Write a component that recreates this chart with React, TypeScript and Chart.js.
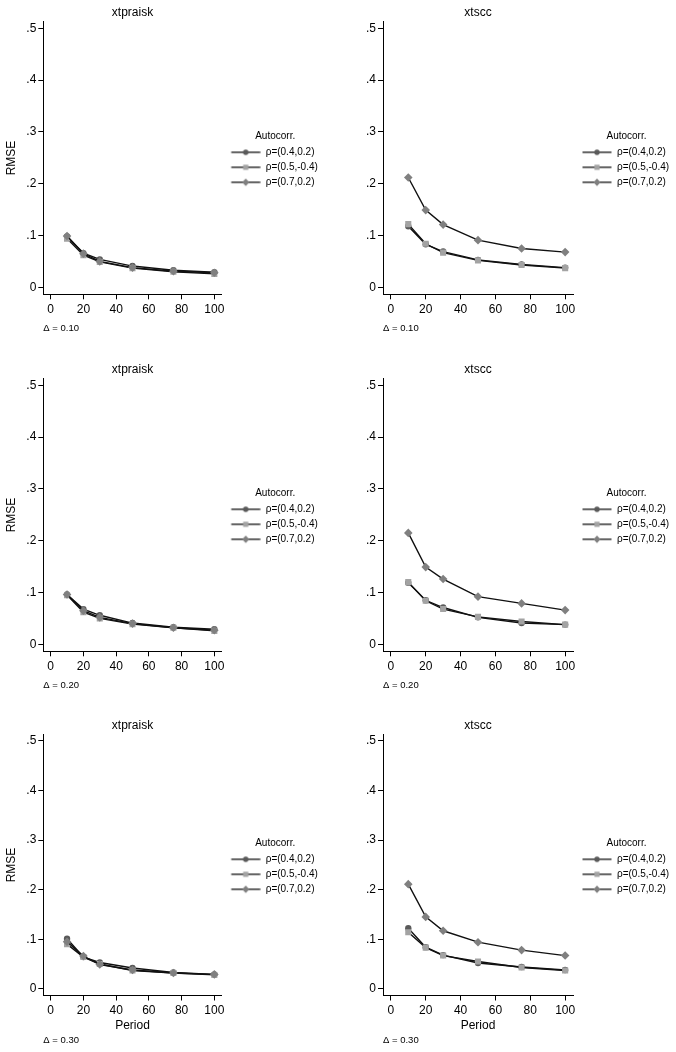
import React, { useEffect, useRef } from 'react';
import { Chart, registerables } from 'chart.js';

Chart.register(...registerables);

const FONT = '"Liberation Sans", Arial, sans-serif';

const PERIODS = [10, 20, 30, 50, 75, 100];
const X_TICKS = [0, 20, 40, 60, 80, 100];
const Y_TICKS = [0, 0.1, 0.2, 0.3, 0.4, 0.5];
const Y_TICK_LABELS = ['0', '.1', '.2', '.3', '.4', '.5'];
const SERIES_LABELS = ['ρ=(0.4,0.2)', 'ρ=(0.5,-0.4)', 'ρ=(0.7,0.2)'];
const ESTIMATORS = ['xtpraisk', 'xtscc'];
const DELTAS = ['Δ = 0.10', 'Δ = 0.20', 'Δ = 0.30'];

// xtpraisk, Δ = 0.10
const XTPRAISK_D10_A = [0.098, 0.066, 0.054, 0.041, 0.033, 0.029];
const XTPRAISK_D10_B = [0.094, 0.062, 0.049, 0.037, 0.030, 0.026];
const XTPRAISK_D10_C = [0.099, 0.065, 0.050, 0.038, 0.031, 0.028];
// xtscc, Δ = 0.10
const XTSCC_D10_A = [0.118, 0.083, 0.069, 0.053, 0.044, 0.038];
const XTSCC_D10_B = [0.122, 0.084, 0.067, 0.052, 0.043, 0.037];
const XTSCC_D10_C = [0.212, 0.149, 0.121, 0.091, 0.075, 0.068];
// xtpraisk, Δ = 0.20
const XTPRAISK_D20_A = [0.096, 0.068, 0.056, 0.041, 0.033, 0.029];
const XTPRAISK_D20_B = [0.095, 0.062, 0.050, 0.039, 0.032, 0.026];
const XTPRAISK_D20_C = [0.096, 0.065, 0.052, 0.040, 0.032, 0.027];
// xtscc, Δ = 0.20
const XTSCC_D20_A = [0.119, 0.085, 0.071, 0.052, 0.041, 0.038];
const XTSCC_D20_B = [0.120, 0.084, 0.068, 0.053, 0.044, 0.038];
const XTSCC_D20_C = [0.215, 0.149, 0.126, 0.092, 0.079, 0.066];
// xtpraisk, Δ = 0.30
const XTPRAISK_D30_A = [0.101, 0.064, 0.053, 0.042, 0.033, 0.029];
const XTPRAISK_D30_B = [0.090, 0.064, 0.050, 0.037, 0.032, 0.028];
const XTPRAISK_D30_C = [0.095, 0.066, 0.049, 0.038, 0.032, 0.029];
// xtscc, Δ = 0.30
const XTSCC_D30_A = [0.122, 0.084, 0.068, 0.052, 0.044, 0.038];
const XTSCC_D30_B = [0.114, 0.083, 0.067, 0.055, 0.043, 0.037];
const XTSCC_D30_C = [0.211, 0.145, 0.117, 0.094, 0.078, 0.067];

const PANEL_DATA = [
  [[XTPRAISK_D10_A, XTPRAISK_D10_B, XTPRAISK_D10_C], [XTSCC_D10_A, XTSCC_D10_B, XTSCC_D10_C]],
  [[XTPRAISK_D20_A, XTPRAISK_D20_B, XTPRAISK_D20_C], [XTSCC_D20_A, XTSCC_D20_B, XTSCC_D20_C]],
  [[XTPRAISK_D30_A, XTPRAISK_D30_B, XTPRAISK_D30_C], [XTSCC_D30_A, XTSCC_D30_B, XTSCC_D30_C]],
];

const MARKER_COLORS = ['#5a5a5a', '#a3a3a3', '#808080'];
const MARKER_STYLES = ['circle', 'rect', 'rectRot'];
const MARKER_RADII = [3.2, 4.3, 4.3];
const LINE_COLOR = '#111111';

const ROW_TOPS = [0, 357, 714];
const ROW_HEIGHTS = [357, 357, 338];
const COL_LEFTS = [0, 338];
const COL_WIDTHS = [338, 348];

const LEGEND_FONT_SIZE = 10;
const LEGEND_PAD = 5;
const SAMPLE_W = 34;

function makeLegendSample(style: string, color: string, radius: number) {
  const c = document.createElement('canvas');
  c.width = SAMPLE_W;
  c.height = 10;
  const ctx = c.getContext('2d')!;
  ctx.strokeStyle = LINE_COLOR;
  ctx.lineWidth = 1.3;
  ctx.beginPath();
  ctx.moveTo(4.5, 5);
  ctx.lineTo(33.5, 5);
  ctx.stroke();
  ctx.fillStyle = color;
  const cx = 19, cy = 5;
  ctx.beginPath();
  if (style === 'circle') {
    ctx.arc(cx, cy, radius, 0, Math.PI * 2);
  } else if (style === 'rect') {
    const s = radius * Math.SQRT1_2;
    ctx.rect(cx - s, cy - s, 2 * s, 2 * s);
  } else {
    ctx.moveTo(cx, cy - radius);
    ctx.lineTo(cx + radius, cy);
    ctx.lineTo(cx, cy + radius);
    ctx.lineTo(cx - radius, cy);
    ctx.closePath();
  }
  ctx.fill();
  return c;
}

function Panel({ row, col }: { row: number; col: number }) {
  const ref = useRef<HTMLCanvasElement>(null);
  const H = ROW_HEIGHTS[row];
  const W = COL_WIDTHS[col];

  useEffect(() => {
    const canvas = ref.current!;
    const isLast = row === 2;
    const chartTop = isLast ? 20.5 : 21.7;
    const chartBottom = isLast ? 281.5 : 294.3;
    const xH = isLast ? 37.7 : 24;
    const subPadTop = isLast ? 1.1 : 4;
    const subFont = 9.5;
    const subH = subFont * 1.2 + subPadTop;
    const padBottom = H - chartBottom - xH - subH;
    const titlePadTop = isLast ? 4.8 : 5;
    const titlePadBottom = chartTop - 14.4 - titlePadTop;

    // natural legend width (Chart.js: padding + box + fontSize/2 + text + 10)
    const mctx = document.createElement('canvas').getContext('2d')!;
    mctx.font = `${LEGEND_FONT_SIZE}px ${FONT}`;
    const maxText = Math.max(...SERIES_LABELS.map((t) => mctx.measureText(t).width));
    const legendWidth = Math.ceil(LEGEND_PAD + SAMPLE_W + LEGEND_FONT_SIZE / 2 + maxText + 10);
    const chartRight = col === 0 ? 221.7 : 235;
    const padRight = W - chartRight - legendWidth;

    const samples = MARKER_STYLES.map((s, i) => makeLegendSample(s, MARKER_COLORS[i], MARKER_RADII[i] * 0.85));
    const series = PANEL_DATA[row][col];

    const tickFont = { family: FONT, size: 12 };

    const fixLegendWidth = {
      id: 'fixLegendWidth',
      beforeLayout(ch: any) {
        const lg = ch.legend;
        if (lg && !lg.__patched) {
          const orig = lg.fit.bind(lg);
          lg.fit = function () {
            orig();
            this.width = legendWidth;
          };
          lg.__patched = true;
        }
      },
    };

    const chart = new Chart(canvas, {
      type: 'line',
      data: {
        datasets: series.map((vals, i) => ({
          label: SERIES_LABELS[i],
          data: PERIODS.map((p, j) => ({ x: p, y: vals[j] })),
          borderColor: LINE_COLOR,
          borderWidth: 1.4,
          pointStyle: MARKER_STYLES[i] as any,
          pointRadius: MARKER_RADII[i],
          pointBackgroundColor: MARKER_COLORS[i],
          pointBorderColor: MARKER_COLORS[i],
          pointBorderWidth: 0,
          tension: 0,
          fill: false,
          order: 2 - i,
        })),
      },
      plugins: [fixLegendWidth],
      options: {
        animation: false,
        responsive: false,
        devicePixelRatio: 1,
        color: '#000',
        layout: { padding: { left: 0, top: 0, right: padRight, bottom: padBottom } },
        scales: {
          x: {
            type: 'linear',
            min: -4.5,
            max: 104.5,
            afterBuildTicks: (s: any) => { s.ticks = X_TICKS.map((v) => ({ value: v })); },
            afterFit: (s: any) => { s.height = xH; },
            ticks: { font: tickFont, color: '#000', padding: 3, maxRotation: 0, autoSkip: false, callback: (v: any) => String(v) },
            grid: { drawOnChartArea: false, drawTicks: true, tickLength: 5, color: '#000', lineWidth: 1 },
            border: { display: true, color: '#000', width: 1 },
            title: { display: isLast, text: 'Period', font: tickFont, color: '#000', padding: { top: 0, bottom: 0 } },
          },
          y: {
            type: 'linear',
            min: -0.0135,
            max: 0.5127,
            afterBuildTicks: (s: any) => { s.ticks = Y_TICKS.map((v) => ({ value: v })); },
            afterFit: (s: any) => { s.width = col === 0 ? 43.3 : 45; },
            ticks: { font: tickFont, color: '#000', padding: 2, autoSkip: false, callback: (_v: any, i: number) => Y_TICK_LABELS[i] },
            grid: { drawOnChartArea: false, drawTicks: true, tickLength: 5, color: '#000', lineWidth: 1 },
            border: { display: true, color: '#000', width: 1 },
            title: { display: col === 0, text: 'RMSE', font: tickFont, color: '#000', padding: { top: 4.8, bottom: 0 } },
          },
        },
        plugins: {
          tooltip: { enabled: false },
          title: {
            display: true,
            text: ESTIMATORS[col],
            fullSize: false,
            font: { family: FONT, size: 12, weight: 'normal' },
            color: '#000',
            padding: { top: titlePadTop, bottom: titlePadBottom },
          },
          subtitle: {
            display: true,
            text: DELTAS[row],
            position: 'bottom',
            align: 'start',
            fullSize: false,
            font: { family: FONT, size: subFont, weight: 'normal' },
            color: '#000',
            padding: { top: subPadTop, bottom: 0 },
          },
          legend: {
            display: true,
            position: 'right',
            align: 'center',
            fullSize: false,
            title: {
              display: true,
              text: 'Autocorr.',
              color: '#000',
              font: { family: FONT, size: LEGEND_FONT_SIZE, lineHeight: 0.26 },
              padding: 8,
            },
            labels: {
              font: { family: FONT, size: LEGEND_FONT_SIZE },
              color: '#000',
              padding: LEGEND_PAD,
              usePointStyle: true,
              pointStyleWidth: SAMPLE_W,
              boxHeight: 10,
              generateLabels: (ch: any) =>
                ch.data.datasets.map((ds: any, i: number) => ({
                  text: ds.label,
                  pointStyle: samples[i],
                  fillStyle: 'transparent',
                  strokeStyle: 'transparent',
                  lineWidth: 0,
                  hidden: false,
                  datasetIndex: i,
                  fontColor: '#000',
                })),
            },
          },
        },
      } as any,
    });
    return () => chart.destroy();
  }, [row, col, H, W]);

  return (
    <canvas
      ref={ref}
      width={W}
      height={H}
      style={{ position: 'absolute', left: COL_LEFTS[col], top: ROW_TOPS[row], width: W, height: H }}
    />
  );
}

export default function App() {
  const cells: React.ReactNode[] = [];
  for (let r = 0; r < 3; r++) {
    for (let c = 0; c < 2; c++) {
      cells.push(<Panel key={`${r}-${c}`} row={r} col={c} />);
    }
  }
  return (
    <div style={{ position: 'absolute', left: 0, top: 0, width: 676, height: 1052, background: '#fff', overflow: 'hidden' }}>
      {cells}
    </div>
  );
}
